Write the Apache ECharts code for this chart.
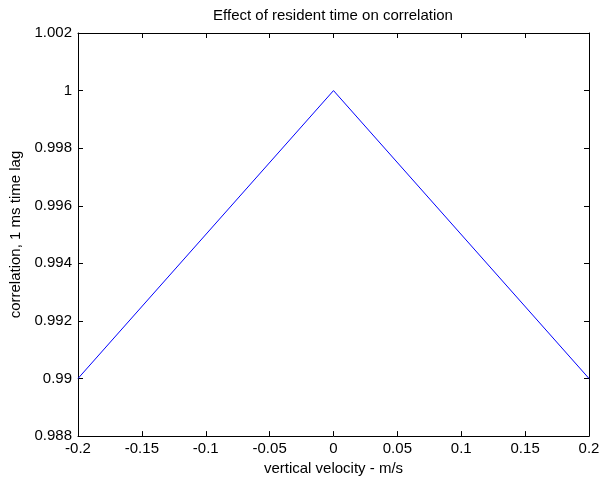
<!DOCTYPE html>
<html>
<head>
<meta charset="utf-8">
<script src="https://cdn.jsdelivr.net/npm/echarts@6/dist/echarts.min.js"></script>
<style>html,body{margin:0;padding:0;background:#fff;}#c{width:603px;height:481px;}</style>
</head>
<body>
<div id="c"></div>
<script>
var titleText = 'Effect of resident time on correlation';
var xName = 'vertical velocity - m/s';
var yName = 'correlation, 1 ms time lag';
var velocity = [-0.2, 0, 0.2];
var correlation = [0.99, 1, 0.99];
var xTicks = [-0.2, -0.15, -0.1, -0.05, 0, 0.05, 0.1, 0.15, 0.2];
var yTicks = [0.988, 0.99, 0.992, 0.994, 0.996, 0.998, 1, 1.002];

var font = 'Liberation Sans, Arial, sans-serif';
var fs = 15;
var chart = echarts.init(document.getElementById('c'), null, {renderer: 'canvas'});
function fmt(v) { return String(parseFloat(Number(v).toFixed(4))); }
var xInt = 0.05, yInt = 0.002;
var axisLine = {show: true, onZero: false, lineStyle: {color: '#000', width: 1}};
var tick = {show: true, inside: true, length: 5, lineStyle: {color: '#000'}};
var xBase = {type: 'value', min: xTicks[0], max: xTicks[xTicks.length-1], interval: xInt,
  axisLine: axisLine, axisTick: tick, splitLine: {show: false}};
var yBase = {type: 'value', min: yTicks[0], max: yTicks[yTicks.length-1], interval: yInt,
  axisLine: axisLine, axisTick: tick, splitLine: {show: false}};
var pts = velocity.map(function (v, i) { return [v, correlation[i]]; });
chart.setOption({
  animation: false,
  backgroundColor: '#fff',
  title: {text: titleText, left: 328, top: 3, textAlign: 'center',
    textStyle: {fontFamily: font, fontSize: fs, fontWeight: 'normal', color: '#000'}},
  grid: {left: 78, top: 33, right: 14, bottom: 42, containLabel: false},
  xAxis: [
    Object.assign({}, xBase, {position: 'bottom',
      name: xName, nameLocation: 'middle', nameGap: 20,
      nameTextStyle: {fontFamily: font, fontSize: fs, color: '#000'},
      axisLabel: {show: true, margin: 5, fontFamily: font, fontSize: fs, color: '#000', formatter: fmt,
        showMinLabel: true, showMaxLabel: true}}),
    Object.assign({}, xBase, {position: 'top', axisLabel: {show: false}})
  ],
  yAxis: [
    Object.assign({}, yBase, {position: 'left',
      name: yName, nameLocation: 'middle', nameGap: 51, nameRotate: 90,
      nameTextStyle: {fontFamily: font, fontSize: fs, color: '#000'},
      axisLabel: {show: true, margin: 6, fontFamily: font, fontSize: fs, color: '#000', formatter: fmt,
        showMinLabel: true, showMaxLabel: true}}),
    Object.assign({}, yBase, {position: 'right', axisLabel: {show: false}})
  ],
  series: [{
    type: 'line', data: pts, xAxisIndex: 0, yAxisIndex: 0,
    showSymbol: false, symbol: 'none',
    lineStyle: {color: '#0000ff', width: 1}
  }]
});
</script>
</body>
</html>
